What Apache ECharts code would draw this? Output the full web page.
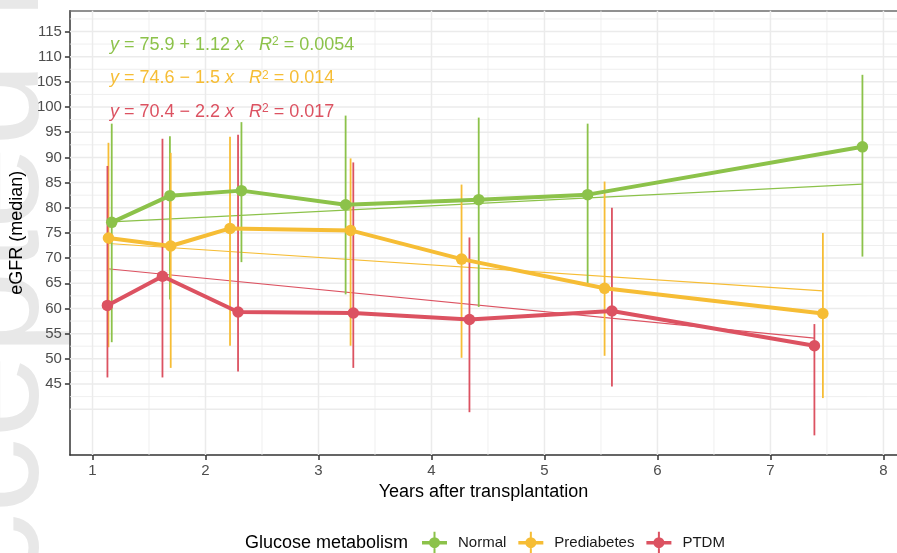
<!DOCTYPE html>
<html>
<head>
<meta charset="utf-8">
<script src="https://cdn.jsdelivr.net/npm/echarts@6/dist/echarts.min.js"></script>
<style>
  html, body { margin: 0; padding: 0; background: #fff; }
  #chart { width: 897px; height: 553px; }
</style>
</head>
<body>
<div id="chart"></div>
<script>
// ---------- data ----------
const groups = ['Normal', 'Prediabetes', 'PTDM'];
const colors = ['#8CC24A', '#F6BD35', '#DC5261'];

const normalX   = [1.17, 1.685, 2.318, 3.24, 4.418, 5.382, 7.814];
const normalY   = [77.1, 82.4, 83.4, 80.6, 81.6, 82.6, 92.1];
const normalLo  = [53.3, 61.8, 69.2, 62.8, 60.3, 64.7, 70.3];
const normalHi  = [96.7, 94.2, 97.0, 98.3, 97.9, 96.7, 106.4];

const prediabX  = [1.141, 1.692, 2.217, 3.284, 4.266, 5.532, 7.464];
const prediabY  = [74.0, 72.4, 75.9, 75.5, 69.8, 64.0, 59.0];
const prediabLo = [52.3, 48.2, 52.6, 52.6, 50.2, 50.6, 42.2];
const prediabHi = [92.9, 90.9, 94.1, 89.8, 84.6, 85.2, 75.0];

const ptdmX     = [1.132, 1.619, 2.288, 3.308, 4.336, 5.597, 7.389];
const ptdmY     = [60.6, 66.4, 59.3, 59.1, 57.8, 59.5, 52.6];
const ptdmLo    = [46.3, 46.3, 47.5, 48.2, 39.4, 44.5, 34.8];
const ptdmHi    = [88.3, 93.7, 94.5, 89.0, 74.1, 80.0, 56.9];

// fitted-line end points
const normalFit  = [[1.17, 77.2], [7.814, 84.7]];
const prediabFit = [[1.141, 72.9], [7.464, 63.5]];
const ptdmFit    = [[1.132, 67.9], [7.389, 54.1]];

// equation labels
const eqIntercept = ['75.9', '74.6', '70.4'];
const eqSlope     = ['+ 1.12', '\u2212 1.5', '\u2212 2.2'];
const eqR2        = ['0.0054', '0.014', '0.017'];

// axis ticks and grid
const xTicks = [1, 2, 3, 4, 5, 6, 7, 8];
const yTicks = [45, 50, 55, 60, 65, 70, 75, 80, 85, 90, 95, 100, 105, 110, 115];
const xMinorGrid = [1.5, 2.5, 3.5, 4.5, 5.5, 6.5, 7.5];
const yMinorGrid = [42.5, 47.5, 52.5, 57.5, 62.5, 67.5, 72.5, 77.5, 82.5, 87.5, 92.5, 97.5, 102.5, 107.5, 112.5, 117.5];
const yExtraGrid = [40];

const X_MIN = 0.8, X_MAX = 8.12, Y_MIN = 30.9, Y_MAX = 119.13;
const FONT = '"Liberation Sans", Arial, sans-serif';

// ---------- helpers ----------
function gridSeries(vals, dir, width) {
  return {
    type: 'custom', silent: true, z: 1, animation: false,
    data: vals.map(v => dir === 'h' ? [X_MIN, v] : [v, Y_MIN]),
    renderItem: (params, api) => {
      const cs = params.coordSys;
      const p = api.coord([api.value(0), api.value(1)]);
      const shape = dir === 'h'
        ? { x1: cs.x, y1: p[1], x2: cs.x + cs.width, y2: p[1] }
        : { x1: p[0], y1: cs.y, x2: p[0], y2: cs.y + cs.height };
      return { type: 'line', shape, style: { stroke: '#ebebeb', lineWidth: width } };
    }
  };
}

function errSeries(name, xs, lo, hi, color) {
  return {
    type: 'custom', name: name + ' range', silent: true, z: 4, animation: false,
    data: xs.map((x, i) => [x, lo[i], hi[i]]),
    encode: { x: 0, y: [1, 2] },
    renderItem: (params, api) => {
      const a = api.coord([api.value(0), api.value(1)]);
      const b = api.coord([api.value(0), api.value(2)]);
      return { type: 'line', shape: { x1: a[0], y1: a[1], x2: b[0], y2: b[1] },
               style: { stroke: color, lineWidth: 1.8 } };
    }
  };
}

function mainSeries(name, xs, ys, color) {
  return {
    type: 'line', name, z: 5, animation: false,
    data: xs.map((x, i) => [x, ys[i]]),
    symbol: 'circle', symbolSize: 11.5, showSymbol: true,
    lineStyle: { color, width: 4 },
    itemStyle: { color },
    emphasis: { disabled: true }
  };
}

function fitSeries(name, pts, color) {
  return {
    type: 'line', name: name + ' fit', z: 3, animation: false, silent: true,
    data: pts, symbol: 'none',
    lineStyle: { color, width: 1.1 }
  };
}

const legendIcon = 'path://M0,9.3 L25,9.3 L25,12.7 L0,12.7 Z M11.5,0 L13.5,0 L13.5,22 L11.5,22 Z M12.5,5.5 A5.5,5.5 0 1 1 12.49,5.5 Z';

const eqYs = [45, 78.3, 111.7];
const eqGraphics = groups.map((g, i) => ({
  type: 'text', x: 110, y: eqYs[i], z: 10,
  style: {
    text: '{i|y} = ' + eqIntercept[i] + ' ' + eqSlope[i] + ' {i|x}   {i|R}{s|2} = ' + eqR2[i],
    fill: colors[i], fontSize: 18, fontFamily: FONT,
    verticalAlign: 'middle', align: 'left',
    rich: {
      i: { fontStyle: 'italic', fill: colors[i], fontSize: 18, fontFamily: FONT },
      s: { fill: colors[i], fontSize: 12, fontFamily: FONT, verticalAlign: 'top', lineHeight: 12 }
    }
  }
}));

const chart = echarts.init(document.getElementById('chart'), null, { renderer: 'canvas' });

chart.setOption({
  animation: false,
  backgroundColor: '#ffffff',
  textStyle: { fontFamily: FONT },
  grid: { left: 69, top: 10.7, width: 828, height: 444.3, containLabel: false },
  xAxis: [{
    type: 'value', min: X_MIN, max: X_MAX,
    name: 'Years after transplantation', nameLocation: 'middle', nameGap: 27,
    nameTextStyle: { color: '#000', fontSize: 18, fontFamily: FONT },
    axisLine: { show: true, onZero: false, lineStyle: { color: '#333', width: 1.5 } },
    axisTick: { show: true, length: 5, customValues: xTicks, lineStyle: { color: '#333', width: 1.5 } },
    axisLabel: { customValues: xTicks, color: '#4d4d4d', fontSize: 15, margin: 8, fontFamily: FONT },
    splitLine: { show: false }
  }, {
    type: 'value', min: X_MIN, max: X_MAX, position: 'top',
    axisLine: { show: true, onZero: false, lineStyle: { color: '#6e6e6e', width: 1.5 } },
    axisTick: { show: false }, axisLabel: { show: false }, splitLine: { show: false }
  }],
  yAxis: {
    type: 'value', min: Y_MIN, max: Y_MAX,
    name: 'eGFR (median)', nameLocation: 'middle', nameGap: 36,
    nameTextStyle: { color: '#000', fontSize: 18, fontFamily: FONT },
    axisLine: { show: true, onZero: false, lineStyle: { color: '#333', width: 1.5 } },
    axisTick: { show: true, length: 5, customValues: yTicks, lineStyle: { color: '#333', width: 1.5 } },
    axisLabel: { customValues: yTicks, color: '#4d4d4d', fontSize: 15, margin: 8, fontFamily: FONT },
    splitLine: { show: false }
  },
  legend: {
    data: groups, left: 422, top: 531.7, padding: 0, orient: 'horizontal',
    itemWidth: 25, itemHeight: 22, itemGap: 12, icon: legendIcon,
    selectedMode: false,
    textStyle: { color: '#1a1a1a', fontSize: 15, fontFamily: FONT, padding: [0, 0, 0, 6] }
  },
  graphic: [
    {
      type: 'text', x: 72, y: 688, rotation: Math.PI / 2, z: -100, silent: true,
      style: { text: 'Accepted Manuscript', fill: '#e8e8e8', fontSize: 150, fontFamily: FONT,
               align: 'left', verticalAlign: 'bottom' }
    },
    {
      type: 'text', x: 245, y: 542.7, z: 10,
      style: { text: 'Glucose metabolism', fill: '#000', fontSize: 18, fontFamily: FONT,
               align: 'left', verticalAlign: 'middle' }
    }
  ].concat(eqGraphics),
  series: [
    gridSeries(xTicks, 'v', 1.5),
    gridSeries(xMinorGrid, 'v', 0.8),
    gridSeries(yTicks, 'h', 1.5),
    gridSeries(yExtraGrid, 'h', 1.5),
    gridSeries(yMinorGrid, 'h', 0.8),
    fitSeries('Normal', normalFit, colors[0]),
    fitSeries('Prediabetes', prediabFit, colors[1]),
    fitSeries('PTDM', ptdmFit, colors[2]),
    errSeries('Normal', normalX, normalLo, normalHi, colors[0]),
    errSeries('Prediabetes', prediabX, prediabLo, prediabHi, colors[1]),
    errSeries('PTDM', ptdmX, ptdmLo, ptdmHi, colors[2]),
    mainSeries('Normal', normalX, normalY, colors[0]),
    mainSeries('Prediabetes', prediabX, prediabY, colors[1]),
    mainSeries('PTDM', ptdmX, ptdmY, colors[2])
  ]
});
</script>
</body>
</html>
